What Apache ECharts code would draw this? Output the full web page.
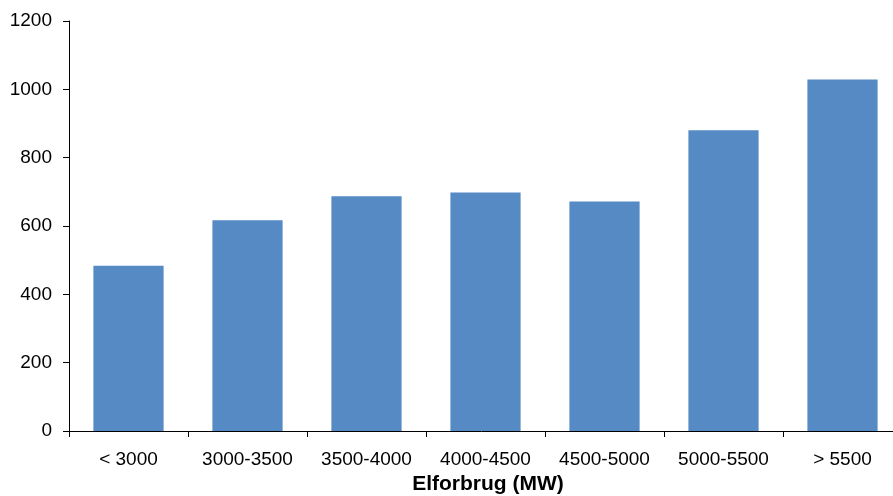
<!DOCTYPE html>
<html>
<head>
<meta charset="utf-8">
<script src="https://cdn.jsdelivr.net/npm/echarts@6/dist/echarts.min.js"></script>
<style>html,body{margin:0;padding:0;background:#fff}#c{width:893px;height:496px}</style>
</head>
<body>
<div id="c"></div>
<script>
const categories = ['< 3000','3000-3500','3500-4000','4000-4500','4500-5000','5000-5500','> 5500'];
const values = [484, 617, 687, 698, 672, 880, 1029];
const xAxisName = 'Elforbrug (MW)';

const chart = echarts.init(document.getElementById('c'), null, {renderer:'canvas'});
chart.setOption({
  animation: false,
  backgroundColor: '#fff',
  grid: {left: 69, width: 833, top: 21, height: 410, containLabel: false, outerBoundsMode: 'none'},
  xAxis: {
    type: 'category',
    data: categories,
    name: xAxisName,
    nameLocation: 'middle',
    nameGap: 43,
    nameTextStyle: {fontFamily: 'Liberation Sans, Arial', fontSize: 21, fontWeight: 'bold', color: '#000', padding: [0, 0, 0, 5]},
    axisLine: {lineStyle: {color: '#000', width: 1}},
    axisTick: {show: true, inside: false, length: 6, alignWithLabel: false, lineStyle: {color: '#000'}},
    axisLabel: {fontFamily: 'Liberation Sans, Arial', fontSize: 19, color: '#000', margin: 19, interval: 0},
    splitLine: {show: false}
  },
  yAxis: {
    type: 'value',
    min: 0, max: 1200, interval: 200,
    axisLine: {show: true, lineStyle: {color: '#000', width: 1}},
    axisTick: {show: true, inside: false, length: 6, lineStyle: {color: '#000'}},
    axisLabel: {fontFamily: 'Liberation Sans, Arial', fontSize: 19, color: '#000', margin: 17, formatter: function (v) { return String(v); }},
    splitLine: {show: false}
  },
  series: [{
    type: 'bar',
    data: values,
    barCategoryGap: '41%',
    itemStyle: {color: '#558AC5'}
  }]
});
</script>
</body>
</html>
